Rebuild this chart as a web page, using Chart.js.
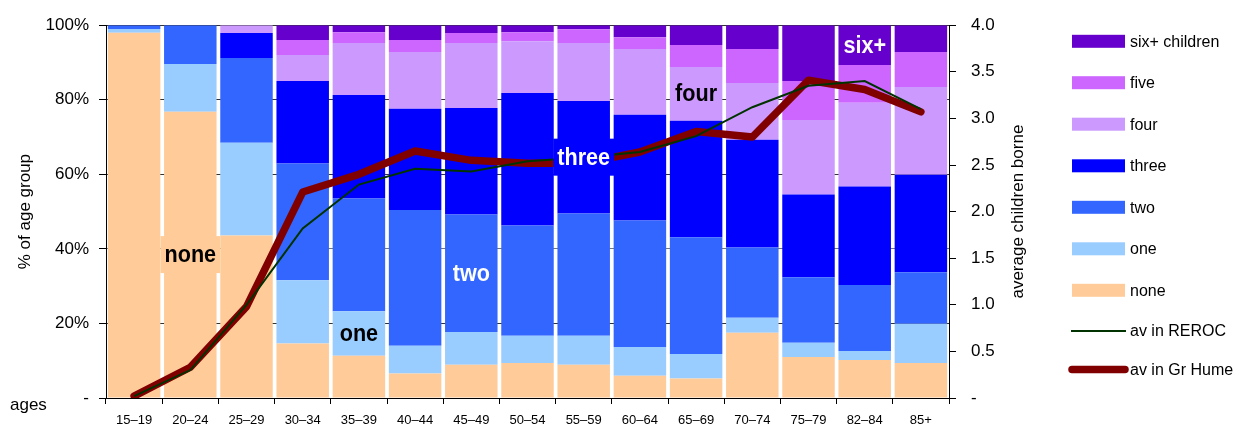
<!DOCTYPE html>
<html><head><meta charset="utf-8">
<script src="https://cdn.jsdelivr.net/npm/chart.js@4/dist/chart.umd.min.js"></script>
<style>html,body{margin:0;padding:0;background:#fff}#wrap{width:1240px;height:425px;position:relative}</style>
</head><body><div id="wrap"><canvas id="c" width="1240" height="425"></canvas></div>
<script>
const categories = ['15–19','20–24','25–29','30–34','35–39','40–44','45–49','50–54','55–59','60–64','65–69','70–74','75–79','82–84','85+'];
const none  = [98,76.8,43.6,14.6,11.3,6.6,8.9,9.4,8.9,6.0,5.2,17.5,11.0,10.2,9.4];
const one   = [1,12.8,24.9,17.0,12.0,7.4,8.8,7.3,7.8,7.7,6.6,4.0,3.8,2.4,10.5];
const two   = [1,10.4,22.7,31.3,30.2,36.4,31.5,29.6,32.8,33.9,31.3,18.9,17.6,17.7,13.8];
const three = [0,0,6.7,22.1,27.8,27.2,28.6,35.5,30.2,28.4,31.3,28.9,22.2,26.4,26.2];
const four  = [0,0,2.1,7.0,13.9,15.2,17.4,13.9,15.5,17.6,14.4,15.2,20.0,22.5,23.5];
const five  = [0,0,0,4.0,2.9,3.2,2.7,2.4,3.7,3.2,5.9,9.1,10.4,10.1,9.4];
const sixPlus = [0,0,0,4.0,1.9,4.0,2.1,1.9,1.1,3.2,5.3,6.4,15.0,10.7,7.2];
const avREROC  = [0.02,0.30,1.0,1.82,2.29,2.46,2.43,2.54,2.58,2.64,2.81,3.12,3.35,3.40,3.10];
const avGrHume = [0.02,0.33,0.98,2.21,2.40,2.65,2.55,2.52,2.52,2.64,2.86,2.80,3.41,3.31,3.07];
const pctTickStep = 20;
const avgTickStep = 0.5;

const C = {none:'#ffcc99', one:'#99ccff', two:'#3366ff', three:'#0000ff', four:'#cc99ff', five:'#cc66ff', six:'#6600cc', reroc:'#003300', hume:'#800000'};
const FONT = "'Liberation Sans', Arial, Helvetica, sans-serif";

function bar(label, data, color){
  return {type:'bar', label, data, backgroundColor:color, borderWidth:0, yAxisID:'y', stack:'s', order:2,
          barPercentage:0.934, categoryPercentage:1};
}
const datasets = [
  {type:'line', label:'av in REROC', data:avREROC, borderColor:C.reroc, borderWidth:2, pointRadius:0, yAxisID:'y2', order:0, tension:0, fill:false},
  {type:'line', label:'av in Gr Hume', data:avGrHume, borderColor:C.hume, borderWidth:7.5, pointRadius:0, yAxisID:'y2', order:1, tension:0, fill:false, borderCapStyle:'round', borderJoinStyle:'round'},
  bar('none', none, C.none),
  bar('one', one, C.one),
  bar('two', two, C.two),
  bar('three', three, C.three),
  bar('four', four, C.four),
  bar('five', five, C.five),
  bar('six+ children', sixPlus, C.six),
];

// in-chart labels: [text, series label, category index, text colour, draw box]
const inLabels = [
  ['none','none',1,'#000',true],
  ['one','one',4,'#000',false],
  ['two','two',6,'#fff',false],
  ['three','three',8,'#fff',true],
  ['four','four',10,'#000',false],
  ['six+','six+ children',13,'#fff',false],
];

const annot = {
  id:'annot',
  afterDatasetsDraw(chart){
    const ctx = chart.ctx;
    inLabels.forEach(([txt, series, idx, col, box])=>{
      const di = chart.data.datasets.findIndex(d=>d.label===series);
      const el = chart.getDatasetMeta(di).data[idx];
      const x = el.x, y = (el.y + el.base)/2;
      ctx.save();
      ctx.font = "bold 24px " + FONT;
      const w = ctx.measureText(txt).width*0.9;
      if (box){
        ctx.fillStyle = chart.data.datasets[di].backgroundColor;
        ctx.fillRect(x - w/2 - 4, y - 18.5, w + 8, 37);
      }
      ctx.translate(x, y);
      ctx.scale(0.9, 1);
      ctx.fillStyle = col;
      ctx.textAlign = 'center';
      ctx.textBaseline = 'middle';
      ctx.fillText(txt, 0, 1);
      ctx.restore();
    });
  },
  afterDraw(chart){
    const ctx = chart.ctx;
    ctx.save();
    // legend
    const order = ['six+ children','five','four','three','two','one','none','av in REROC','av in Gr Hume'];
    const ys = [41.3,82.7,124.2,165.8,207.3,248.8,290.3,331,369.5];
    ctx.font = "16px " + FONT;
    ctx.textBaseline = 'middle';
    ctx.textAlign = 'left';
    order.forEach((lab,i)=>{
      const ds = chart.data.datasets.find(d=>d.label===lab);
      const y = ys[i];
      if (ds.type==='bar'){
        ctx.fillStyle = ds.backgroundColor;
        ctx.fillRect(1072, y-6.5, 53, 13);
      } else {
        ctx.strokeStyle = ds.borderColor;
        ctx.lineWidth = ds.borderWidth;
        ctx.lineCap = ds.borderCapStyle || 'butt';
        ctx.beginPath();
        if (ds.borderWidth>4){ ctx.moveTo(1072, y); ctx.lineTo(1125, y);} else { ctx.moveTo(1071,y); ctx.lineTo(1126,y);}
        ctx.stroke();
      }
      ctx.fillStyle = '#000';
      ctx.fillText(lab, 1130, y+1);
    });
    // right axis title
    const area = chart.chartArea;
    ctx.font = "17px " + FONT;
    ctx.translate(1018, (area.top+area.bottom)/2);
    ctx.rotate(-Math.PI/2);
    ctx.textAlign = 'center';
    ctx.fillText('average children borne', 0, 0);
    ctx.restore();
    ctx.save();
    ctx.font = "17px " + FONT;
    ctx.fillStyle = '#000';
    ctx.textBaseline = 'middle';
    ctx.fillText('ages', 10, 405);
    ctx.restore();
  }
};

new Chart(document.getElementById('c'), {
  data:{labels:categories, datasets},
  options:{
    responsive:false, animation:false, devicePixelRatio:1,
    layout:{padding:{left:11, top:24, right:205, bottom:0}},
    plugins:{legend:{display:false}, tooltip:{enabled:false}},
    scales:{
      x:{stacked:true, offset:true,
         grid:{display:true, drawOnChartArea:false, tickLength:6, tickColor:'#000', offset:true},
         border:{display:true, color:'#000', width:1},
         ticks:{color:'#000', font:{family:FONT, size:13}, padding:9, maxRotation:0, autoSkip:false},
         afterFit(s){ s.height = 27; }},
      y:{stacked:true, min:0, max:100, position:'left',
         ticks:{stepSize:pctTickStep, color:'#000', font:{family:FONT, size:17}, padding:10,
                callback:v=> v===0 ? '-' : v+'%'},
         grid:{color:c=> c.tick && c.tick.value===40 ? '#777' : '#333', lineWidth:1, tickLength:7, tickColor:'#000'},
         border:{display:true, color:'#000', width:1},
         title:{display:true, text:'% of age group', color:'#000', font:{family:FONT, size:17}, padding:{top:4,bottom:4}},
         afterFit(s){ s.width = 95; }},
      y2:{stacked:false, min:0, max:4, position:'right',
         ticks:{stepSize:avgTickStep, color:'#000', font:{family:FONT, size:17}, padding:15,
                callback:v=> v===0 ? '-' : v.toFixed(1)},
         grid:{drawOnChartArea:false, tickLength:7, tickColor:'#000'},
         border:{display:true, color:'#000', width:1},
         afterFit(s){ s.width = 86; }}
    }
  },
  plugins:[annot]
});
</script></body></html>
